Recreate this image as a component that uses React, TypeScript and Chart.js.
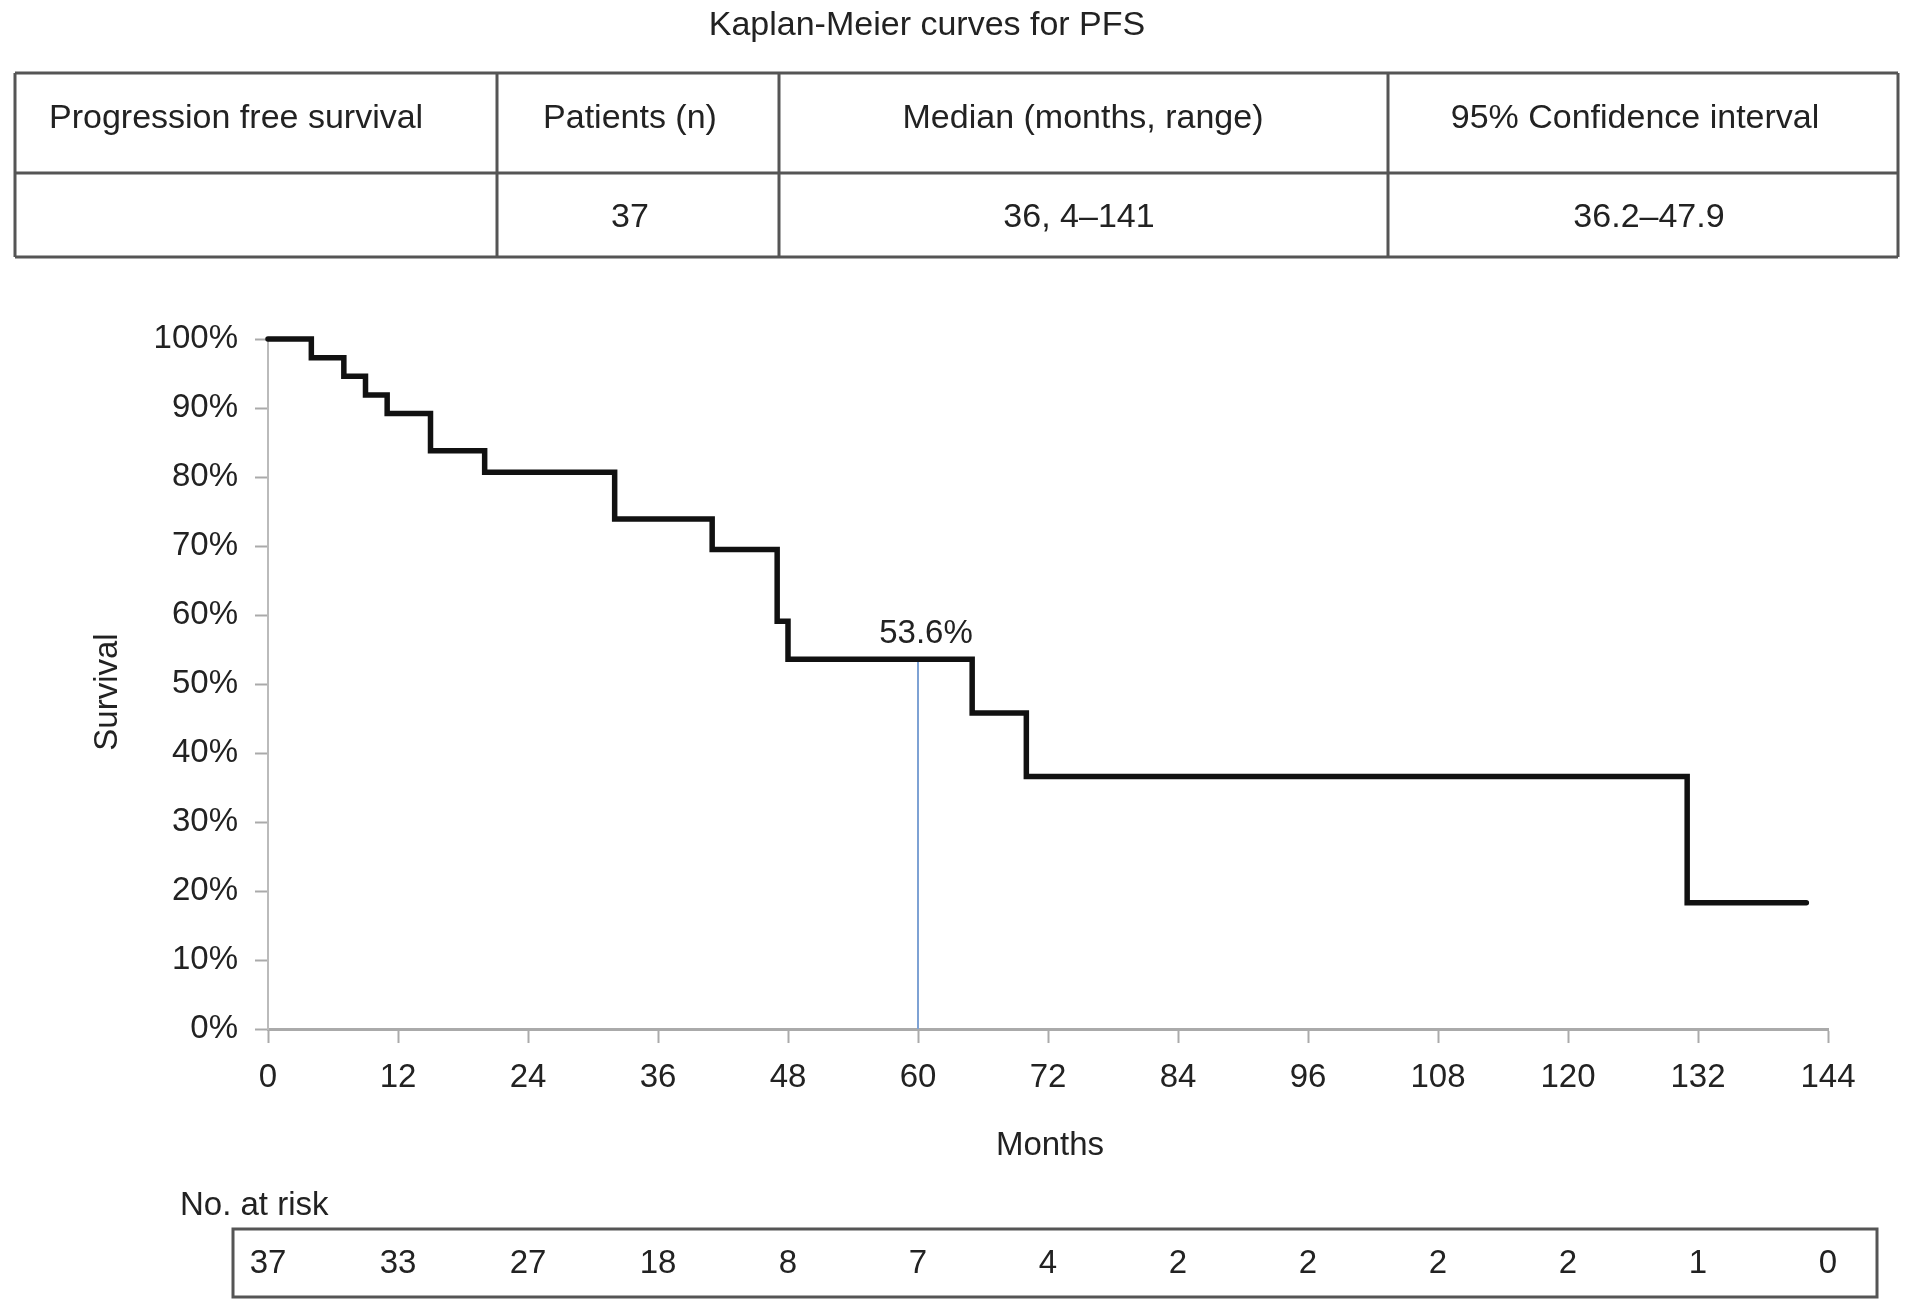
import React, { useEffect, useRef } from "react";
import { Chart, registerables } from "chart.js";

Chart.register(...registerables);

// ---- Data ----
const months = [0, 4, 7, 9, 11, 15, 20, 32, 41, 47, 48, 65, 70, 131, 142];
const survival = [100, 97.3, 94.6, 91.9, 89.2, 83.8, 80.7, 73.9, 69.5, 59.1, 53.6, 45.8, 36.6, 18.3, 18.3];
const medianMonth = 60;
const medianSurvival = 53.6;
const medianLabel = "53.6%";
const atRiskMonths = [0, 12, 24, 36, 48, 60, 72, 84, 96, 108, 120, 132, 144];
const atRisk = [37, 33, 27, 18, 8, 7, 4, 2, 2, 2, 2, 1, 0];
const tableHeaders = ["Progression free survival", "Patients (n)", "Median (months, range)", "95% Confidence interval"];
const tableRow = ["", "37", "36, 4–141", "36.2–47.9"];
const chartTitle = "Kaplan-Meier curves for PFS";
const xTitle = "Months";
const yTitle = "Survival";
const atRiskTitle = "No. at risk";

const FONT = "'Liberation Sans', Arial, Helvetica, sans-serif";
const TEXT = "#222";
const LINE = "#555";

const W = 1913;
const H = 1312;

const overlay = {
  id: "overlay",
  afterDraw(chart: any) {
    const ctx = chart.ctx;
    const xs = chart.scales.x;
    const ys = chart.scales.y;
    const area = chart.chartArea;
    ctx.save();
    ctx.fillStyle = TEXT;
    ctx.textBaseline = "middle";

    // Title
    ctx.font = `34px ${FONT}`;
    ctx.textAlign = "center";
    ctx.fillText(chartTitle, 927, 26);

    // Table
    const tl = 15, tr = 1898;
    const rows = [73, 173, 257];
    const cols = [15, 497, 779, 1388, 1898];
    ctx.strokeStyle = LINE;
    ctx.lineWidth = 3;
    ctx.beginPath();
    rows.forEach((y) => { ctx.moveTo(tl, y); ctx.lineTo(tr, y); });
    cols.forEach((x) => { ctx.moveTo(x, rows[0]); ctx.lineTo(x, rows[2]); });
    ctx.stroke();
    ctx.font = `34px ${FONT}`;
    const headerY = 119;
    const rowY = 218;
    const headerCenters = [0, 630, 1083, 1635];
    const rowCenters = [0, 630, 1079, 1649];
    tableHeaders.forEach((t, i) => {
      if (i === 0) {
        ctx.textAlign = "left";
        ctx.fillText(t, 49, headerY);
      } else {
        ctx.textAlign = "center";
        ctx.fillText(t, headerCenters[i], headerY);
      }
    });
    tableRow.forEach((t, i) => {
      if (!t) return;
      ctx.textAlign = "center";
      ctx.fillText(t, rowCenters[i], rowY);
    });

    // Axis titles
    ctx.font = `33px ${FONT}`;
    ctx.textAlign = "center";
    ctx.fillText(xTitle, (area.left + area.right) / 2 + 2, 1146);
    ctx.save();
    ctx.translate(108, 692);
    ctx.rotate(-Math.PI / 2);
    ctx.fillText(yTitle, 0, 0);
    ctx.restore();

    // Median label
    ctx.textAlign = "center";
    ctx.fillText(medianLabel, xs.getPixelForValue(medianMonth) + 8, ys.getPixelForValue(medianSurvival) - 25);

    // At risk
    ctx.textAlign = "left";
    ctx.textBaseline = "alphabetic";
    ctx.fillText(atRiskTitle, 180, 1215);
    ctx.strokeStyle = LINE;
    ctx.lineWidth = 3;
    ctx.strokeRect(233, 1229, 1877 - 233, 1297 - 1229);
    ctx.textBaseline = "middle";
    ctx.textAlign = "center";
    atRisk.forEach((n, i) => {
      ctx.fillText(String(n), xs.getPixelForValue(atRiskMonths[i]), 1264);
    });
    ctx.restore();
  },
};

export default function App() {
  const ref = useRef<HTMLCanvasElement | null>(null);
  useEffect(() => {
    if (!ref.current) return;
    const chart = new Chart(ref.current, {
      type: "line",
      data: {
        datasets: [
          {
            data: months.map((m, i) => ({ x: m, y: survival[i] })),
            borderColor: "#111",
            borderWidth: 5.5,
            stepped: true,
            pointRadius: 0,
            fill: false,
            clip: 8,
            borderCapStyle: "round",
            borderJoinStyle: "miter",
          } as any,
          {
            data: [
              { x: medianMonth, y: 0 },
              { x: medianMonth, y: medianSurvival },
            ],
            borderColor: "#7ea2d4",
            borderWidth: 2,
            pointRadius: 0,
            fill: false,
          } as any,
        ],
      },
      options: {
        animation: false,
        responsive: false,
        devicePixelRatio: 1,
        layout: { padding: { left: 0, top: 339, right: 85, bottom: 153 } },
        plugins: { legend: { display: false }, tooltip: { enabled: false }, title: { display: false } },
        scales: {
          x: {
            type: "linear",
            min: 0,
            max: 144,
            afterFit: (s: any) => { s.height = 130; },
            ticks: { stepSize: 12, color: TEXT, font: { family: FONT, size: 33 }, padding: 15, maxRotation: 0, autoSkip: false },
            grid: { drawOnChartArea: false, drawTicks: true, tickLength: 14, tickColor: "#aaa", tickWidth: 2 },
            border: { display: true, color: "#aaa", width: 3 },
          },
          y: {
            type: "linear",
            min: 0,
            max: 100,
            afterFit: (s: any) => { s.width = 268; },
            ticks: { stepSize: 10, color: TEXT, font: { family: FONT, size: 33 }, padding: 17, callback: (v: any) => `${v}%` },
            grid: { drawOnChartArea: false, drawTicks: true, tickLength: 13, tickColor: "#aaa", tickWidth: 2 },
            border: { display: true, color: "#bbb", width: 2 },
          },
        },
      },
      plugins: [overlay],
    });
    return () => chart.destroy();
  }, []);
  return (
    <div style={{ position: "absolute", left: 0, top: 0, width: W, height: H, background: "#fff" }}>
      <canvas ref={ref} width={W} height={H} style={{ width: W, height: H, display: "block" }} />
    </div>
  );
}
